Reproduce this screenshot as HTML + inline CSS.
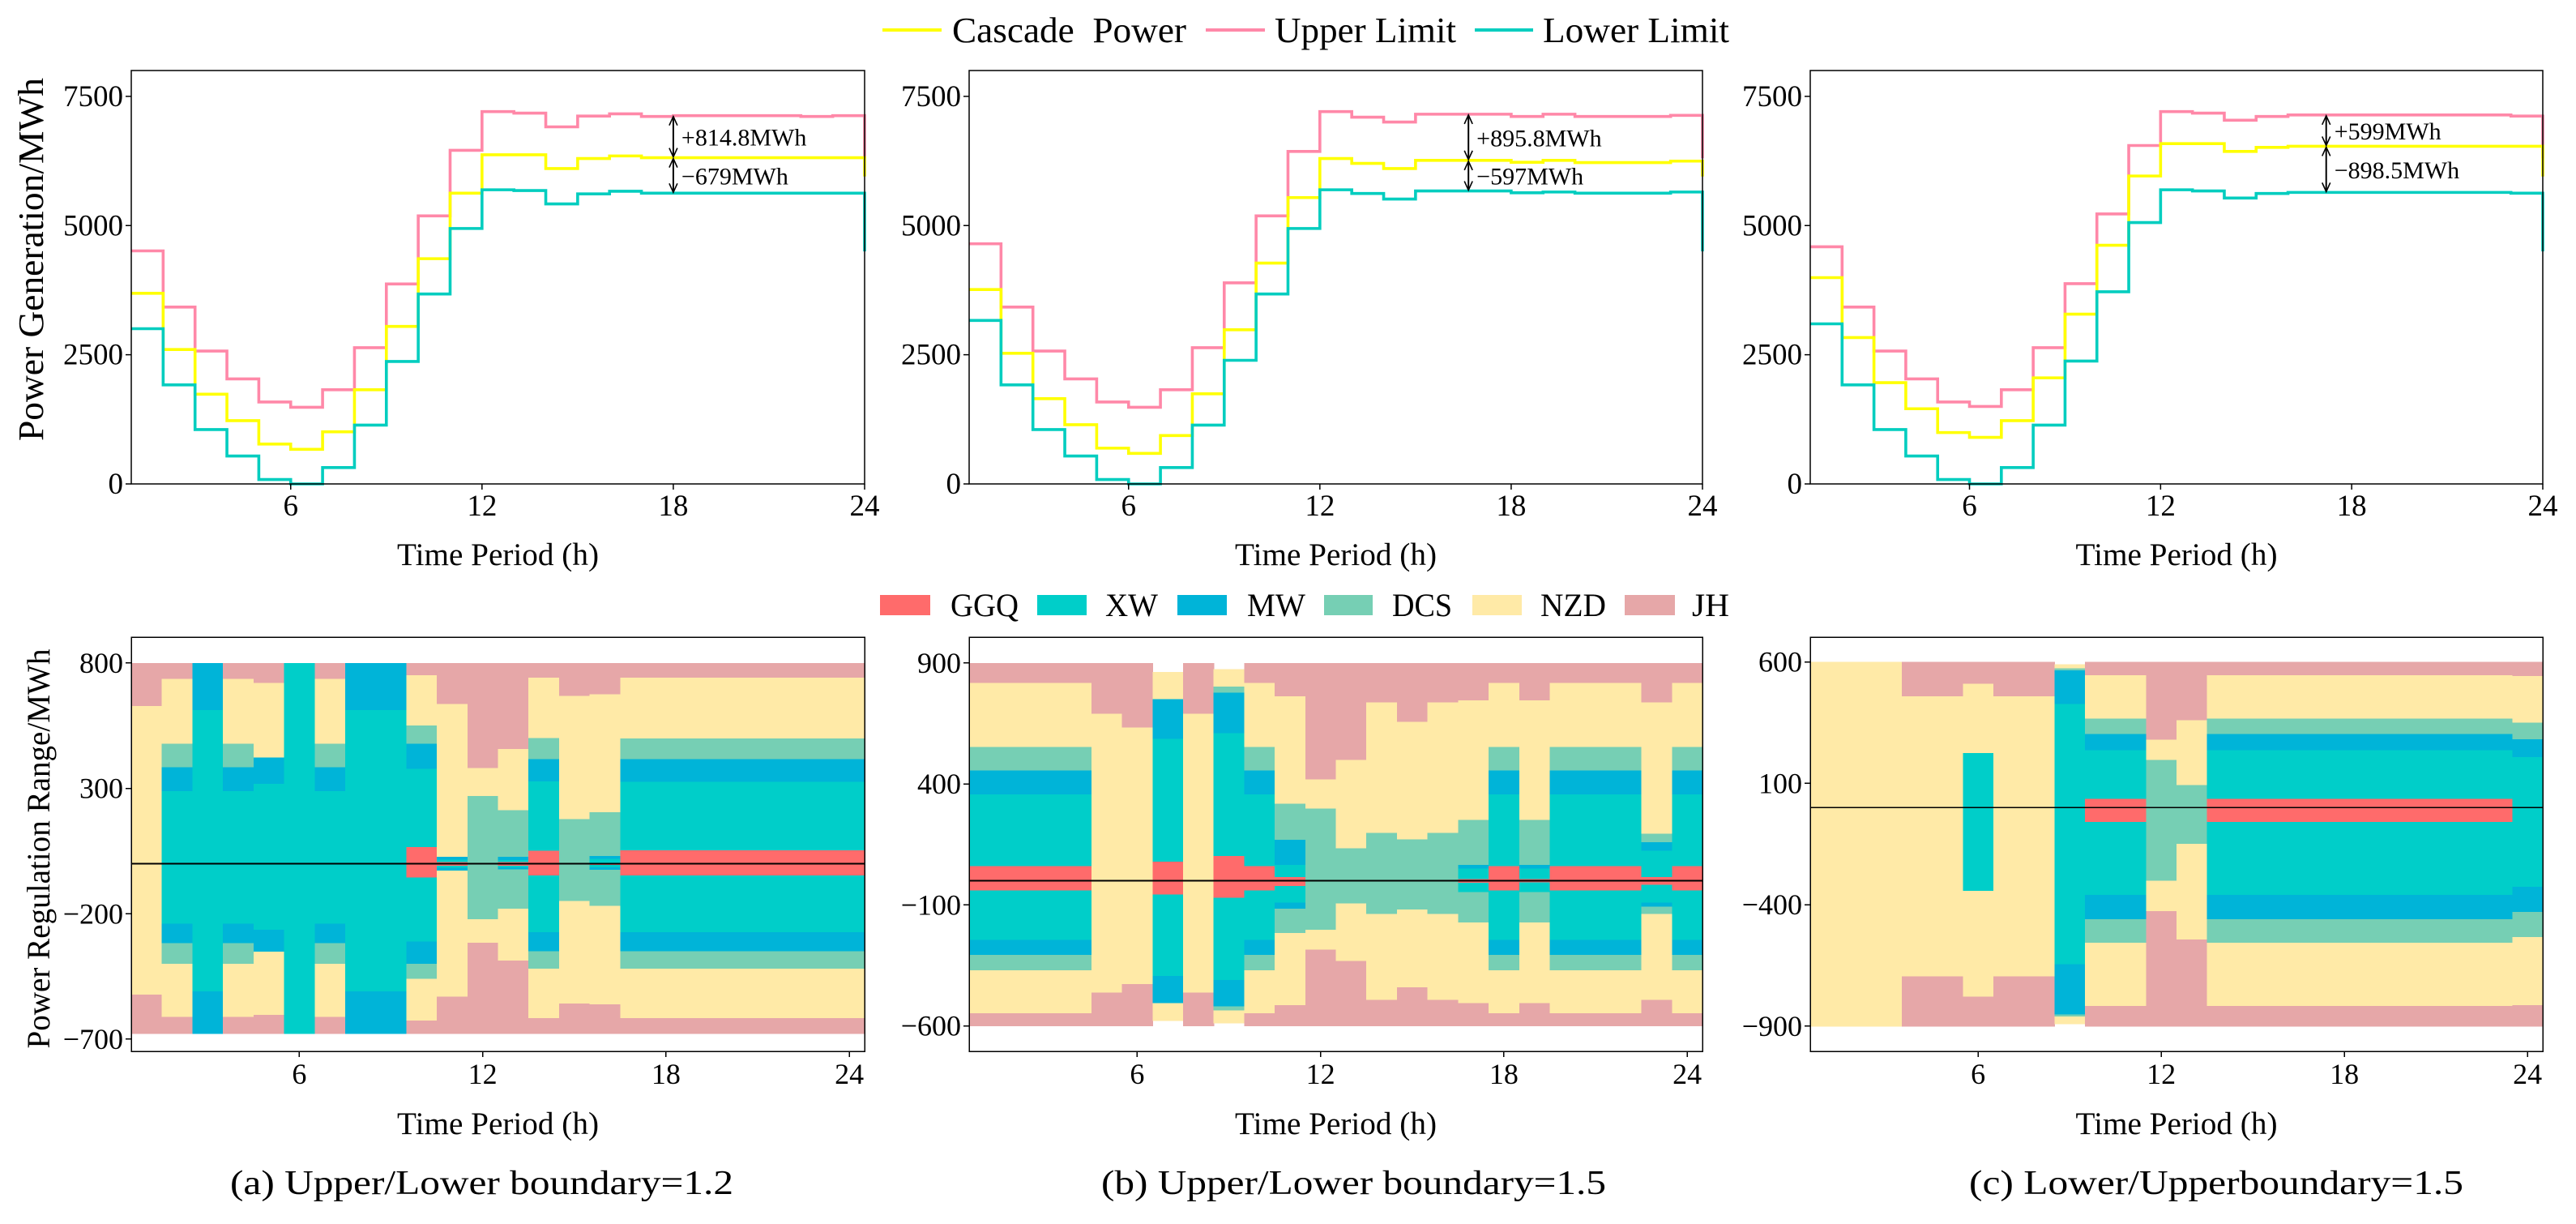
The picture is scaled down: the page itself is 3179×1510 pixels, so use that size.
<!DOCTYPE html>
<html><head><meta charset="utf-8"><style>
html,body{margin:0;padding:0;background:#fff;}
svg{display:block;font-family:"Liberation Serif","DejaVu Serif",serif;}
</style></head><body>
<svg id="fig" xmlns="http://www.w3.org/2000/svg" width="3179" height="1510" viewBox="0 0 3179 1510">
<rect x="0" y="0" width="3179" height="1510" fill="#fff"/>
<g id="legend-top">
 <line x1="1089" y1="37" x2="1162" y2="37" stroke="#ffff00" stroke-width="4"/>
 <text x="1175" y="52" font-size="44" textLength="289" lengthAdjust="spacingAndGlyphs" xml:space="preserve">Cascade  Power</text>
 <line x1="1488" y1="37" x2="1561" y2="37" stroke="#ff88a8" stroke-width="4"/>
 <text x="1573" y="52" font-size="44" textLength="224" lengthAdjust="spacingAndGlyphs">Upper Limit</text>
 <line x1="1820" y1="37" x2="1892" y2="37" stroke="#00cdbf" stroke-width="4"/>
 <text x="1904" y="52" font-size="44" textLength="230" lengthAdjust="spacingAndGlyphs">Lower Limit</text>
</g>
<g id="legend-bottom">
 <rect x="1086" y="734" width="62" height="25" fill="#ff6b6b"/>
 <text x="1173" y="760" font-size="40" textLength="84" lengthAdjust="spacingAndGlyphs">GGQ</text>
 <rect x="1280" y="734" width="61" height="25" fill="#00cec9"/>
 <text x="1364" y="760" font-size="40" textLength="65" lengthAdjust="spacingAndGlyphs">XW</text>
 <rect x="1453" y="734" width="61" height="25" fill="#00b4d8"/>
 <text x="1539" y="760" font-size="40" textLength="72" lengthAdjust="spacingAndGlyphs">MW</text>
 <rect x="1634" y="734" width="60" height="25" fill="#76cfb4"/>
 <text x="1718" y="760" font-size="40" textLength="74" lengthAdjust="spacingAndGlyphs">DCS</text>
 <rect x="1817" y="734" width="61" height="25" fill="#ffeaa7"/>
 <text x="1901" y="760" font-size="40" textLength="81" lengthAdjust="spacingAndGlyphs">NZD</text>
 <rect x="2005" y="734" width="62" height="25" fill="#e6a7a8"/>
 <text x="2088" y="760" font-size="40" textLength="46" lengthAdjust="spacingAndGlyphs">JH</text>
</g>
<text x="38" y="320" font-size="44" text-anchor="middle" textLength="448" lengthAdjust="spacingAndGlyphs" transform="rotate(-90 38 320)" dy="15">Power Generation/MWh</text>
<text x="48" y="1047" font-size="40" text-anchor="middle" textLength="493" lengthAdjust="spacingAndGlyphs" transform="rotate(-90 48 1047)" dy="13">Power Regulation Range/MWh</text>
<text x="284" y="1473" font-size="42" textLength="621" lengthAdjust="spacingAndGlyphs">(a) Upper/Lower boundary=1.2</text>
<text x="1359" y="1473" font-size="42" textLength="623" lengthAdjust="spacingAndGlyphs">(b) Upper/Lower boundary=1.5</text>
<text x="2430" y="1473" font-size="42" textLength="610" lengthAdjust="spacingAndGlyphs">(c) Lower/Upperboundary=1.5</text>
</svg>
<script>
const hours = [1,2,3,4,5,6,7,8,9,10,11,12,13,14,15,16,17,18,19,20,21,22,23,24];
const stations = ['GGQ','XW','MW','DCS','NZD','JH'];
const genTicks = [0,2500,5000,7500];
const hourTicks = [6,12,18,24];

// Top panels: 24 values (last = end-point at hour 24)
const upperA = [4510,3422,2572,2032,1585,1484,1823,2637,3869,5188,6456,7205,7176,6910,7118,7162,7111,7126,7126,7126,7126,7111,7126,6300];
const cascadeA = [3689,2601,1736,1225,771,670,1009,1823,3048,4359,5627,6369,6369,6103,6297,6347,6312,6312,6312,6312,6312,6312,6312,5950];
const lowerA = [3004,1917,1052,540,86,0,317,1138,2370,3675,4943,5692,5677,5418,5612,5663,5627,5627,5627,5627,5627,5627,5627,4500];
const upperB = [4647,3422,2572,2032,1585,1484,1823,2637,3891,5188,6434,7205,7097,7003,7155,7155,7155,7111,7155,7111,7111,7111,7133,6300];
const cascadeB = [3761,2529,1650,1146,692,591,937,1744,2983,4273,5541,6297,6203,6103,6261,6261,6261,6225,6261,6218,6218,6218,6247,5950];
const lowerB = [3163,1917,1052,540,86,0,317,1138,2392,3675,4943,5692,5620,5512,5670,5670,5670,5634,5649,5627,5627,5627,5649,4500];
const upperC = [4590,3422,2572,2032,1585,1499,1823,2637,3876,5224,6549,7205,7176,7039,7111,7140,7140,7140,7140,7140,7140,7140,7118,6300];
const cascadeC = [3992,2832,1960,1455,994,901,1225,2053,3286,4618,5959,6585,6585,6434,6513,6535,6535,6535,6535,6535,6535,6535,6535,5950];
const lowerC = [3098,1917,1052,540,86,0,317,1138,2378,3718,5058,5692,5670,5533,5620,5641,5641,5641,5641,5641,5641,5641,5627,4500];

// Bottom panels: outer edge of each station's band (MWh), 0 = station absent that hour
const ggqUpA = [0,0,0,0,0,0,0,0,0,67,8,0,8,53,0,5,55,55,55,55,55,55,55,55];
const xwUpA  = [0,291,613,291,319,800,291,613,613,379,17,0,15,329,0,20,327,327,327,327,327,327,327,327];
const mwUpA  = [0,386,800,386,424,0,386,800,800,479,28,0,28,418,0,32,418,418,418,418,418,418,418,418];
const dcsUpA = [0,479,0,479,0,0,479,0,0,553,0,271,215,503,179,207,501,501,501,501,501,501,501,501];
const nzdUpA = [630,738,0,738,722,0,738,0,0,753,638,382,459,743,670,676,743,743,743,743,743,743,743,743];
const jhUpA  = [800,800,0,800,800,0,800,0,0,800,800,800,800,800,800,800,800,800,800,800,800,800,800,800];
const ggqDnA = [0,0,0,0,0,0,0,0,0,-55,-8,0,-8,-47,0,-5,-47,-47,-47,-47,-47,-47,-47,-47];
const xwDnA  = [0,-239,-509,-239,-264,-678,-239,-509,-509,-311,-17,0,-15,-274,0,-15,-274,-274,-274,-274,-274,-274,-274,-274];
const mwDnA  = [0,-317,-678,-317,-351,0,-317,-678,-678,-399,-28,0,-22,-349,0,-25,-349,-349,-349,-349,-349,-349,-349,-349];
const dcsDnA = [0,-399,0,-399,0,0,-399,0,0,-459,0,-222,-180,-418,-149,-169,-419,-419,-419,-419,-419,-419,-419,-419];
const nzdDnA = [-523,-611,0,-611,-603,0,-611,0,0,-626,-531,-316,-386,-616,-558,-561,-616,-616,-616,-616,-616,-616,-616,-616];
const jhDnA  = [-678,-678,0,-678,-678,0,-678,0,0,-678,-678,-678,-678,-678,-678,-678,-678,-678,-678,-678,-678,-678,-678,-678];

const ggqUpB = [61,61,61,61,0,0,80,0,104,61,17,0,0,0,0,0,8,61,8,61,61,61,17,61];
const xwUpB  = [358,358,358,358,0,0,588,0,611,358,66,0,0,0,0,0,52,358,52,358,358,358,126,358];
const mwUpB  = [457,457,457,457,0,0,751,0,779,457,170,0,0,0,0,0,66,457,66,457,457,457,161,457];
const dcsUpB = [554,554,554,554,0,0,0,0,804,554,320,299,135,199,173,199,253,554,253,554,554,554,196,554];
const nzdUpB = [818,818,818,818,692,635,862,692,875,818,763,420,500,739,657,739,747,818,747,818,818,818,739,818];
const jhUpB  = [900,900,900,900,900,900,0,900,0,900,900,900,900,900,900,900,900,900,900,900,900,900,900,900];
const ggqDnB = [-40,-40,-40,-40,0,0,-57,0,-71,-40,-21,0,0,0,0,0,-8,-40,-7,-40,-40,-40,-17,-40];
const xwDnB  = [-244,-244,-244,-244,0,0,-393,0,-410,-244,-90,0,0,0,0,0,-47,-244,-47,-244,-244,-244,-90,-244];
const mwDnB  = [-306,-306,-306,-306,0,0,-505,0,-519,-306,-116,0,0,0,0,0,0,-306,0,-306,-306,-306,-107,-306];
const dcsDnB = [-370,-370,-370,-370,0,0,0,0,-536,-370,-216,-202,-93,-137,-119,-137,-173,-370,-173,-370,-370,-370,-137,-370];
const nzdDnB = [-548,-548,-548,-548,-462,-427,-578,-462,-588,-548,-514,-284,-332,-493,-441,-493,-505,-548,-505,-548,-548,-548,-493,-548];
const jhDnB  = [-600,-600,-600,-600,-600,-600,0,-600,0,-600,-600,-600,-600,-600,-600,-600,-600,-600,-600,-600,-600,-600,-600,-600];

const ggqUpC = [0,0,0,0,0,0,0,0,0,38,38,0,0,38,38,38,38,38,38,38,38,38,38,0];
const xwUpC  = [0,0,0,0,0,226,0,0,429,238,238,0,0,238,238,238,238,238,238,238,238,238,238,209];
const mwUpC  = [0,0,0,0,0,0,0,0,567,305,305,0,0,305,305,305,305,305,305,305,305,305,305,283];
const dcsUpC = [0,0,0,0,0,0,0,0,576,369,369,198,95,369,369,369,369,369,369,369,369,369,369,352];
const nzdUpC = [600,600,600,460,460,512,460,460,590,547,547,281,362,547,547,547,547,547,547,547,547,547,547,543];
const jhUpC  = [0,0,0,600,600,600,600,600,0,600,600,600,600,600,600,600,600,600,600,600,600,600,600,600];
const ggqDnC = [0,0,0,0,0,0,0,0,0,-59,-59,0,0,-59,-59,-59,-59,-59,-59,-59,-59,-59,-59,0];
const xwDnC  = [0,0,0,0,0,-343,0,0,-645,-360,-360,0,0,-360,-360,-360,-360,-360,-360,-360,-360,-360,-360,-326];
const mwDnC  = [0,0,0,0,0,0,0,0,-852,-460,-460,0,0,-460,-460,-460,-460,-460,-460,-460,-460,-460,-460,-429];
const dcsDnC = [0,0,0,0,0,0,0,0,-860,-557,-557,-300,-148,-557,-557,-557,-557,-557,-557,-557,-557,-557,-557,-533];
const nzdDnC = [-900,-900,-900,-695,-695,-778,-695,-695,-890,-817,-817,-426,-543,-817,-817,-817,-817,-817,-817,-817,-817,-817,-817,-814];
const jhDnC  = [0,0,0,-900,-900,-900,-900,-900,0,-900,-900,-900,-900,-900,-900,-900,-900,-900,-900,-900,-900,-900,-900,-900];

const regTicksA = [-700,-200,300,800];
const regTicksB = [-600,-100,400,900];
const regTicksC = [-900,-400,100,600];
const annotA = ['+814.8MWh','\u2212679MWh'];
const annotB = ['+895.8MWh','\u2212597MWh'];
const annotC = ['+599MWh','\u2212898.5MWh'];
const annotHour = [18,16.66,17.2];

const NS = 'http://www.w3.org/2000/svg';
const svg = document.getElementById('fig');
const colors = {GGQ:'#ff6b6b',XW:'#00cec9',MW:'#00b4d8',DCS:'#76cfb4',NZD:'#ffeaa7',JH:'#e6a7a8'};
function mk(tag, attrs, parent){const e=document.createElementNS(NS,tag);for(const k in attrs)e.setAttribute(k,attrs[k]);(parent||svg).appendChild(e);return e;}

const panels = [
 {id:'a', x0:162, x1:1067, up:upperA, cas:cascadeA, lo:lowerA,
  ups:[ggqUpA,xwUpA,mwUpA,dcsUpA,nzdUpA,jhUpA], dns:[ggqDnA,xwDnA,mwDnA,dcsDnA,nzdDnA,jhDnA],
  ymin:-748.5, ymax:903.4, ticks:regTicksA, annot:annotA, ah:annotHour[0]},
 {id:'b', x0:1196, x1:2101, up:upperB, cas:cascadeB, lo:lowerB,
  ups:[ggqUpB,xwUpB,mwUpB,dcsUpB,nzdUpB,jhUpB], dns:[ggqDnB,xwDnB,mwDnB,dcsDnB,nzdDnB,jhDnB],
  ymin:-705, ymax:1006.5, ticks:regTicksB, annot:annotB, ah:annotHour[1]},
 {id:'c', x0:2234, x1:3138, up:upperC, cas:cascadeC, lo:lowerC,
  ups:[ggqUpC,xwUpC,mwUpC,dcsUpC,nzdUpC,jhUpC], dns:[ggqDnC,xwDnC,mwDnC,dcsDnC,nzdDnC,jhDnC],
  ymin:-1003.6, ymax:702.6, ticks:regTicksC, annot:annotC, ah:annotHour[2]}
];

panels.forEach(p=>{
 // ---------- top line chart ----------
 const T0=87, T1=597;
 const xt = h => p.x0 + (h-1)/(23)*(p.x1-p.x0);
 const yt = v => T1 - v/8000*(T1-T0);
 const g = mk('g',{});
 
 
 const series=[[p.up,'#ff88a8','upper-limit-line'],[p.cas,'#ffff00','cascade-power-line'],[p.lo,'#00cdbf','lower-limit-line']];
 series.forEach(s=>{
  const vals=s[0]; let d='M'+xt(1)+','+yt(vals[0]);
  for(let i=1;i<23;i++){d+=' H'+xt(hours[i])+' V'+yt(vals[i]);}
  d+=' H'+xt(24)+' V'+yt(vals[23]);
  const path=mk('path',{d:d,fill:'none',stroke:s[1],'stroke-width':3.6},g);
  
  
 });
 const frame=mk('rect',{x:p.x0,y:T0,width:p.x1-p.x0,height:T1-T0,fill:'none',stroke:'#000','stroke-width':1.5},g);
 
 
 genTicks.forEach(t=>{
  mk('line',{x1:p.x0-7,x2:p.x0,y1:yt(t),y2:yt(t),stroke:'#000','stroke-width':1.5},g);
  const tx=mk('text',{x:p.x0-10,y:yt(t)+12,'font-size':37,'text-anchor':'end'},g);
  tx.textContent=t;
  
  
 });
 hourTicks.forEach(t=>{
  mk('line',{x1:xt(t),x2:xt(t),y1:T1,y2:T1+7,stroke:'#000','stroke-width':1.5},g);
  const tx=mk('text',{x:xt(t),y:636,'font-size':37,'text-anchor':'middle'},g);
  tx.textContent=t;
  
  
 });
 const xl=mk('text',{x:(p.x0+p.x1)/2,y:697,'font-size':39,'text-anchor':'middle',textLength:249,lengthAdjust:'spacingAndGlyphs'},g);
 xl.textContent='Time Period (h)';
 
 
 // annotation arrows
 const ai = Math.min(22, Math.floor(p.ah)-1);
 const ax = xt(p.ah), yU=yt(p.up[ai]), yC=yt(p.cas[ai]), yL=yt(p.lo[ai]);
 const ann=mk('g',{},g);
 
 
 [[yU,yC],[yC,yL]].forEach(seg=>{
  mk('line',{x1:ax,x2:ax,y1:seg[0]+3,y2:seg[1]-3,stroke:'#000','stroke-width':2},ann);
  mk('path',{d:`M${ax-5},${seg[0]+12} L${ax},${seg[0]+1} L${ax+5},${seg[0]+12}`,fill:'none',stroke:'#000','stroke-width':1.6},ann);
  mk('path',{d:`M${ax-5},${seg[1]-12} L${ax},${seg[1]-1} L${ax+5},${seg[1]-12}`,fill:'none',stroke:'#000','stroke-width':1.6},ann);
 });
 const t1=mk('text',{x:ax+10,y:(yU+yC)/2+11,'font-size':30},ann);
 t1.textContent=p.annot[0];
 
 
 const t2=mk('text',{x:ax+10,y:(yC+yL)/2+11,'font-size':30},ann);
 t2.textContent=p.annot[1];
 
 

 // ---------- bottom stacked range chart ----------
 const B0=786, B1=1297;
 const xb = h => p.x0 + (h-0.5)/24*(p.x1-p.x0);
 const yb = v => B1 - (v-p.ymin)/(p.ymax-p.ymin)*(B1-B0);
 const g2=mk('g',{'shape-rendering':'crispEdges'});
 
 
 hours.forEach((h,i)=>{
  [p.ups,p.dns].forEach((arrs,dir)=>{
   let base=0;
   arrs.forEach((arr,si)=>{
    const v=arr[i];
    if(!v) return;
    const ya=yb(base), yv=yb(v);
    const r=mk('rect',{x:xb(h-0.5),y:Math.min(ya,yv),width:xb(h+0.5)-xb(h-0.5)+0.6,height:Math.abs(ya-yv)+0.4,fill:colors[stations[si]]},g2);
    
    
    base=v;
   });
  });
 });
 const zl=mk('line',{x1:p.x0,x2:p.x1,y1:yb(0),y2:yb(0),stroke:'#000','stroke-width':1.6},g2);
 
 
 const f2=mk('rect',{x:p.x0,y:B0,width:p.x1-p.x0,height:B1-B0,fill:'none',stroke:'#000','stroke-width':1.5},g2);
 
 
 p.ticks.forEach(t=>{
  mk('line',{x1:p.x0-7,x2:p.x0,y1:yb(t),y2:yb(t),stroke:'#000','stroke-width':1.5},g2);
  const tx=mk('text',{x:p.x0-10,y:yb(t)+12,'font-size':36,'text-anchor':'end'},g2);
  tx.textContent=(t<0?'\u2212'+(-t):t);
  
  
 });
 hourTicks.forEach(t=>{
  mk('line',{x1:xb(t),x2:xb(t),y1:B1,y2:B1+7,stroke:'#000','stroke-width':1.5},g2);
  const tx=mk('text',{x:xb(t),y:1337,'font-size':36,'text-anchor':'middle'},g2);
  tx.textContent=t;
  
  
 });
 const xl2=mk('text',{x:(p.x0+p.x1)/2,y:1399,'font-size':39,'text-anchor':'middle',textLength:249,lengthAdjust:'spacingAndGlyphs'},g2);
 xl2.textContent='Time Period (h)';
 
 
});
</script>
</body></html>
